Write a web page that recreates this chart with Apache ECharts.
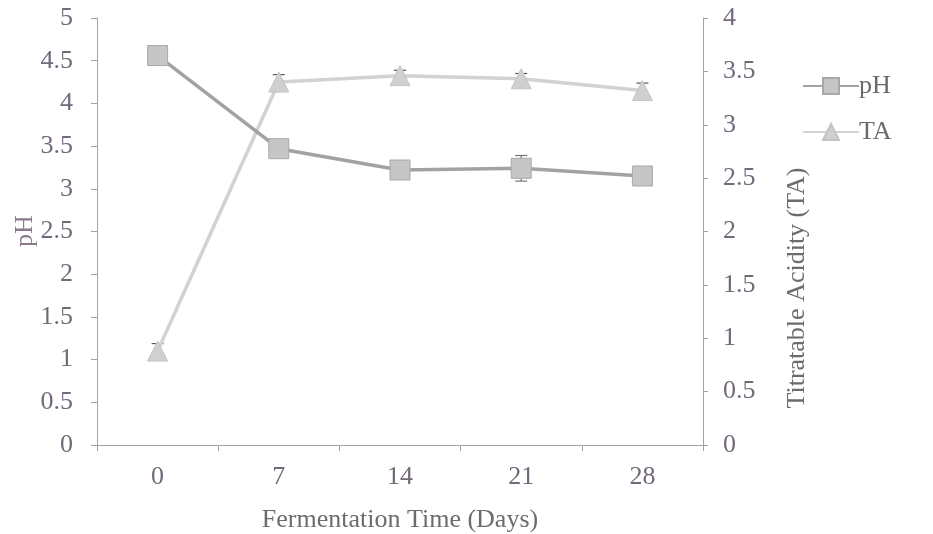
<!DOCTYPE html>
<html><head><meta charset="utf-8">
<script src="https://cdn.jsdelivr.net/npm/echarts@6/dist/echarts.min.js"></script>
<style>html,body{margin:0;padding:0;background:#fff}#c{width:933px;height:534px}</style>
</head><body><div id="c"></div>
<script>
const days = ['0', '7', '14', '21', '28'];
const phValues = [4.56, 3.47, 3.22, 3.24, 3.15];
const phErrors = [0.02, 0.03, 0.03, 0.15, 0.03];
const taValues = [0.88, 3.40, 3.46, 3.43, 3.32];
const taErrors = [0.07, 0.07, 0.05, 0.05, 0.07];
const phTicks = [0, 0.5, 1, 1.5, 2, 2.5, 3, 3.5, 4, 4.5, 5];
const taTicks = [0, 0.5, 1, 1.5, 2, 2.5, 3, 3.5, 4];

const font = '"Liberation Serif", "Times New Roman", serif';
const labelColor = '#74697a';
const axisColor = '#a89fa8';

function errSeries(vals, errs, yIdx, color) {
  return {
    type: 'custom', yAxisIndex: yIdx, z: 1, silent: true,
    data: vals.map((v, i) => [i, v - errs[i], v + errs[i]]),
    renderItem: function (params, api) {
      const lo = api.coord([api.value(0), api.value(1)]);
      const hi = api.coord([api.value(0), api.value(2)]);
      const w = 6;
      const st = { stroke: color, lineWidth: 1.2 };
      return { type: 'group', children: [
        { type: 'line', shape: { x1: hi[0], y1: hi[1], x2: lo[0], y2: lo[1] }, style: st },
        { type: 'line', shape: { x1: hi[0] - w, y1: hi[1], x2: hi[0] + w, y2: hi[1] }, style: st },
        { type: 'line', shape: { x1: lo[0] - w, y1: lo[1], x2: lo[0] + w, y2: lo[1] }, style: st }
      ]};
    }
  };
}

const chart = echarts.init(document.getElementById('c'));
chart.setOption({
  animation: false,
  backgroundColor: '#fff',
  textStyle: { fontFamily: font },
  grid: { left: 97, right: 230, top: 18, bottom: 89, containLabel: false, outerBoundsMode: 'none' },
  legend: {
    orient: 'vertical', left: 797, top: 68, itemGap: 20, itemWidth: 56, itemHeight: 20,
    data: ['pH', 'TA'],
    textStyle: { fontFamily: font, fontSize: 26, color: '#6a6a6a', padding: [0, 0, 0, -5] }
  },
  xAxis: {
    type: 'category', data: days, boundaryGap: true,
    name: 'Fermentation Time (Days)', nameLocation: 'middle', nameGap: 62,
    nameTextStyle: { fontFamily: font, fontSize: 26, color: '#6e6a6e' },
    axisLine: { lineStyle: { color: axisColor, width: 1 } },
    axisTick: { show: true, length: 6, inside: false, lineStyle: { color: axisColor } },
    axisLabel: { fontFamily: font, fontSize: 26, color: labelColor, margin: 19 },
    splitLine: { show: false }
  },
  yAxis: [
    {
      type: 'value', min: phTicks[0], max: phTicks[phTicks.length - 1], interval: 0.5, position: 'left',
      axisLine: { show: true, lineStyle: { color: axisColor } },
      axisTick: { show: true, length: 6, lineStyle: { color: axisColor } },
      axisLabel: { fontFamily: font, fontSize: 26, color: labelColor, margin: 24 },
      splitLine: { show: false }
    },
    {
      type: 'value', min: taTicks[0], max: taTicks[taTicks.length - 1], interval: 0.5, position: 'right',
      axisLine: { show: true, lineStyle: { color: axisColor } },
      axisTick: { show: true, length: 5, lineStyle: { color: axisColor } },
      axisLabel: { fontFamily: font, fontSize: 26, color: labelColor, margin: 20 },
      splitLine: { show: false }
    }
  ],
  graphic: [
    {
      type: 'text', x: 25, y: 231, rotation: Math.PI / 2,
      style: { text: 'pH', font: '26px ' + font, fill: '#8a7a8a',
        textAlign: 'center', textVerticalAlign: 'middle' }
    },
    {
      type: 'text', x: 797, y: 288, rotation: Math.PI / 2,
      style: { text: 'Titratable Acidity (TA)', font: '26px ' + font, fill: '#6e6a6e',
        textAlign: 'center', textVerticalAlign: 'middle' }
    }
  ],
  series: [
    {
      name: 'pH', type: 'line', yAxisIndex: 0, data: phValues, z: 3,
      symbol: 'rect', symbolSize: 20,
      lineStyle: { color: '#a2a2a2', width: 3.5 },
      itemStyle: { color: '#c6c6c6', borderColor: '#a8a8a8', borderWidth: 1 }
    },
    {
      name: 'TA', type: 'line', yAxisIndex: 1, data: taValues, z: 2,
      symbol: 'triangle', symbolSize: 20,
      lineStyle: { color: '#d2d2d2', width: 3.5 },
      itemStyle: { color: '#d0d0d0', borderColor: '#c4c4c4', borderWidth: 1 }
    },
    errSeries(phValues, phErrors, 0, '#7a6e7e'),
    errSeries(taValues, taErrors, 1, '#5e5662')
  ]
});
</script></body></html>
